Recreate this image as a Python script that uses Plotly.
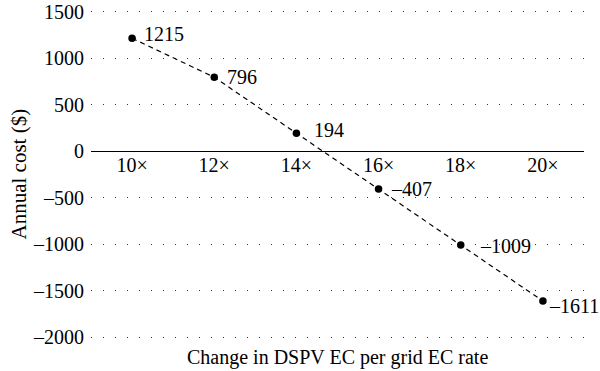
import plotly.graph_objects as go

categories = ["10×", "12×", "14×", "16×", "18×", "20×"]
annual_cost = [1215, 796, 194, -407, -1009, -1611]
point_labels = ["1215", "796", "194", "–407", "–1009", "–1611"]
y_ticks = [1500, 1000, 500, 0, -500, -1000, -1500, -2000]
y_tick_text = ["1500", "1000", "500", "0", "–500", "–1000", "–1500", "–2000"]

# label offsets (style only)
label_dx = [10, 11, 16, 10, 17, 4]
label_dy = [4, 0, 3, 0, -1, -5]

FONT = "Liberation Serif"
FS = 20
ymin, ymax = -2030, 1530

fig = go.Figure()
fig.add_trace(go.Scatter(
    x=categories, y=annual_cost,
    mode="lines+markers",
    line=dict(color="black", width=1.2, dash="5px,4px"),
    marker=dict(color="black", size=7.5),
    cliponaxis=False,
    showlegend=False,
))

annotations = [
    dict(x=c, y=v, xref="x", yref="y", text=t, showarrow=False,
         xanchor="left", yanchor="middle", xshift=dx, yshift=dy,
         font=dict(family=FONT, size=FS, color="black"))
    for c, v, t, dx, dy in zip(categories, annual_cost, point_labels, label_dx, label_dy)
]
annotations.append(dict(
    text="Change in DSPV EC per grid EC rate",
    xref="paper", yref="paper", x=0.5, y=0, yshift=-17,
    xanchor="center", yanchor="middle", showarrow=False,
    font=dict(family=FONT, size=FS, color="black"),
))
annotations.append(dict(
    text="Annual cost ($)", textangle=-90,
    xref="paper", yref="paper", x=0, y=0.5, xshift=-73,
    xanchor="center", yanchor="middle", showarrow=False,
    font=dict(family=FONT, size=21, color="black"),
))

fig.update_layout(
    width=600, height=371,
    margin=dict(l=91, r=16, t=9, b=31, autoexpand=False),
    paper_bgcolor="white", plot_bgcolor="white",
    font=dict(family=FONT, size=FS, color="black"),
    xaxis=dict(
        type="category", range=[-0.5, 5.5],
        anchor="free", position=(0 - ymin) / (ymax - ymin),
        showline=False, showgrid=False, zeroline=False, automargin=False,
        ticks="", tickfont=dict(family=FONT, size=FS, color="black"),
    ),
    yaxis=dict(
        range=[ymin, ymax], automargin=False,
        tickvals=y_ticks, ticktext=y_tick_text,
        showgrid=True, gridcolor="#333333", gridwidth=1, griddash="1px,11px",
        zeroline=True, zerolinecolor="black", zerolinewidth=1.3,
        showline=False, ticks="", ticklabelstandoff=6,
        tickfont=dict(family=FONT, size=FS, color="black"),
    ),
    annotations=annotations,
)

# remove the default 8px page margin so the figure fills the window exactly
fig.write_html("out.html", config={"displayModeBar": False},
               post_script="document.body.style.margin='0px';")
